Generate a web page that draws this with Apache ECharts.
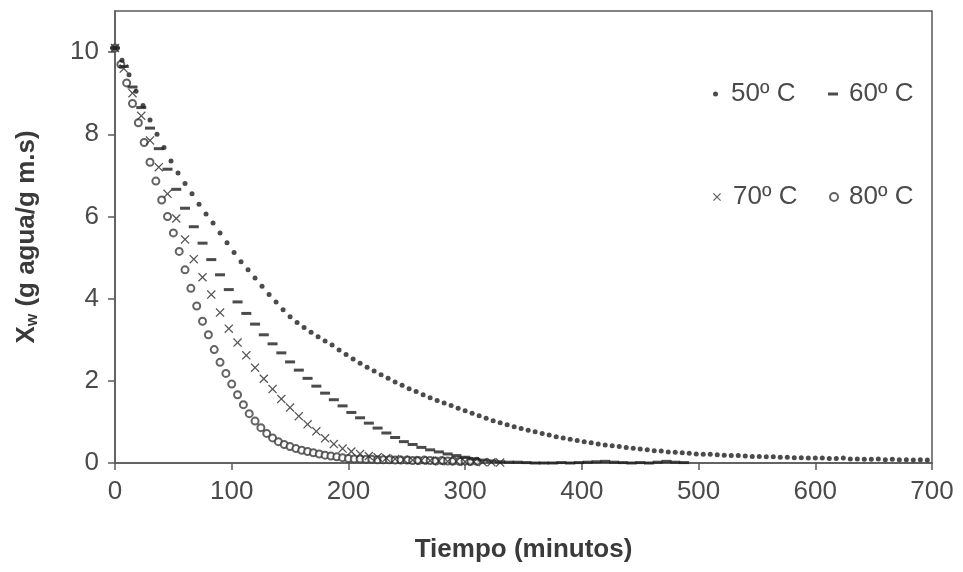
<!DOCTYPE html>
<html>
<head>
<meta charset="utf-8">
<script src="https://cdn.jsdelivr.net/npm/echarts@6/dist/echarts.min.js"></script>
<style>
html,body{margin:0;padding:0;background:#fff;}
#chart{width:963px;height:572px;}
</style>
</head>
<body>
<div id="chart"></div>
<script>
// Sampling steps (minutes) for each series
const step50 = 6;
const step60 = 7.5;
const step70 = 7.5;
const step80 = 5;

const seriesNames = ['50º C', '60º C', '70º C', '80º C'];

const xw50 = [10.1,9.8,9.45,9.05,8.7,8.35,8.0,7.68,7.35,7.06,6.8,6.55,6.3,6.06,5.84,5.6,5.36,5.12,4.9,4.7,
  4.5,4.3,4.1,3.92,3.73,3.56,3.42,3.3,3.18,3.07,2.97,2.87,2.75,2.64,2.53,2.43,2.33,2.24,2.15,2.06,
  1.97,1.89,1.81,1.74,1.66,1.59,1.52,1.46,1.40,1.33,1.27,1.21,1.15,1.09,1.03,0.98,0.93,0.88,0.84,0.80,
  0.76,0.72,0.68,0.64,0.61,0.58,0.55,0.52,0.49,0.46,0.44,0.42,0.40,0.38,0.36,0.34,0.32,0.30,0.29,0.27,
  0.26,0.25,0.24,0.22,0.21,0.21,0.20,0.19,0.18,0.18,0.17,0.16,0.16,0.15,0.15,0.14,0.14,0.13,0.13,0.12,
  0.12,0.12,0.11,0.11,0.12,0.10,0.10,0.09,0.09,0.10,0.08,0.09,0.08,0.08,0.07,0.08,0.07];

const xw60 = [10.1,9.65,9.15,8.65,8.15,7.65,7.15,6.66,6.2,5.75,5.35,4.95,4.58,4.22,3.92,3.64,3.38,3.12,2.9,2.68,
  2.46,2.26,2.06,1.87,1.7,1.54,1.39,1.23,1.1,0.97,0.85,0.73,0.62,0.52,0.45,0.38,0.32,0.27,0.22,0.18,
  0.14,0.1,0.07,0.05,0.03,0.02,0.02,0.01,0.0,0.0,0.0,0.01,0.0,0.01,0.02,0.03,0.04,0.02,0.01,0.0,
  0.01,0.0,0.02,0.04,0.02,0.01];

const xw70 = [10.1,9.6,9.0,8.45,7.85,7.2,6.55,5.95,5.44,4.96,4.52,4.1,3.66,3.27,2.93,2.62,2.32,2.05,1.8,1.56,
  1.35,1.14,0.94,0.77,0.6,0.46,0.35,0.28,0.22,0.17,0.14,0.12,0.1,0.08,0.07,0.06,0.06,0.05,0.04,0.04,
  0.03,0.03,0.02,0.02,0.01];

const xw80 = [10.1,9.7,9.25,8.75,8.28,7.8,7.32,6.86,6.4,6.0,5.6,5.15,4.7,4.25,3.82,3.45,3.12,2.76,2.45,2.18,
  1.92,1.66,1.42,1.2,1.02,0.86,0.72,0.61,0.52,0.45,0.4,0.35,0.31,0.28,0.25,0.22,0.19,0.17,0.15,0.13,
  0.11,0.1,0.1,0.09,0.09,0.08,0.08,0.08,0.07,0.07,0.07,0.06,0.06,0.07,0.06,0.05,0.06,0.05,0.05,0.04,
  0.05,0.04,0.04];

const xTicks = [0,100,200,300,400,500,600,700];
const yTicks = [0,2,4,6,8,10];

function pairs(vals, step){ return vals.map((v,i)=>[i*step, v]); }

const crossPath = 'path://M1,0L5,4L9,0L10,1L6,5L10,9L9,10L5,6L1,10L0,9L4,5L0,1Z';
const ink = '#1e1e1e';
const circCol = '#3c3c3c';
const textCol = '#4a4a4a';
const axisCol = '#5a5a5a';
const font = 'Liberation Sans, Arial, sans-serif';

const chart = echarts.init(document.getElementById('chart'), null, {renderer:'canvas'});

function legendAt(name, left, top, icon, w, h, gap, style){
  return {
    data:[{name:name, icon:icon, itemStyle: style}],
    left:left, top:top, itemWidth:w, itemHeight:h, itemTextGap:5,
    selectedMode:false, padding:0,
    textStyle:{fontFamily:font, fontSize:26, color:textCol, padding:[0,0,0,gap]}
  };
}

chart.setOption({
  backgroundColor:'#fff',
  animation:false,
  grid:{left:115, right:31, top:11, bottom:109, show:true, borderColor:axisCol, borderWidth:1.5, backgroundColor:'transparent'},
  legend:[
    legendAt(seriesNames[0], 713, 81, 'circle', 5, 5, 8, {color:ink, borderWidth:0}),
    legendAt(seriesNames[1], 828, 81, 'rect', 10, 3, 6, {color:ink, borderWidth:0}),
    legendAt(seriesNames[2], 713, 184, crossPath, 8, 8, 7, {color:'#333', borderWidth:0}),
    legendAt(seriesNames[3], 829, 184, 'emptyCircle', 8, 8, 6, {color:circCol, borderColor:circCol, borderWidth:1.3})
  ],
  xAxis:{
    type:'value', min:0, max:700, interval:100,
    name:'Tiempo (minutos)', nameLocation:'middle', nameGap:74,
    nameTextStyle:{fontFamily:font, fontSize:26, fontWeight:'bold', color:'#3a3a3a'},
    axisLine:{show:true, onZero:false, lineStyle:{color:axisCol, width:1.5}},
    axisTick:{show:true, inside:false, length:7, customValues:xTicks, lineStyle:{color:axisCol, width:1.5}},
    axisLabel:{margin:16, customValues:xTicks, fontFamily:font, fontSize:26, color:textCol},
    splitLine:{show:false}
  },
  yAxis:{
    type:'value', min:0, max:11,
    name:'X{sub|w} (g agua/g m.s)', nameLocation:'middle', nameGap:74, nameRotate:90,
    nameTextStyle:{fontFamily:font, fontSize:26, fontWeight:'bold', color:'#3a3a3a',
      rich:{sub:{fontFamily:font, fontSize:16, fontWeight:'bold', color:'#3a3a3a', verticalAlign:'bottom', padding:[12,0,0,0]}}},
    axisLine:{show:true, onZero:false, lineStyle:{color:axisCol, width:1.5}},
    axisTick:{show:true, inside:false, length:7, customValues:yTicks, lineStyle:{color:axisCol, width:1.5}},
    axisLabel:{margin:16, customValues:yTicks, fontFamily:font, fontSize:26, color:textCol},
    splitLine:{show:false}
  },
  series:[
    {name:seriesNames[3], type:'scatter', data:pairs(xw80, step80), symbol:'emptyCircle', symbolSize:7,
      itemStyle:{color:circCol, borderColor:circCol, borderWidth:1.3}},
    {name:seriesNames[2], type:'scatter', data:pairs(xw70, step70), symbol:crossPath, symbolSize:9,
      itemStyle:{color:'#2a2a2a'}},
    {name:seriesNames[1], type:'scatter', data:pairs(xw60, step60), symbol:'rect', symbolSize:[10,3],
      itemStyle:{color:ink}},
    {name:seriesNames[0], type:'scatter', data:pairs(xw50, step50), symbol:'circle', symbolSize:5,
      itemStyle:{color:ink}}
  ]
});
</script>
</body>
</html>
